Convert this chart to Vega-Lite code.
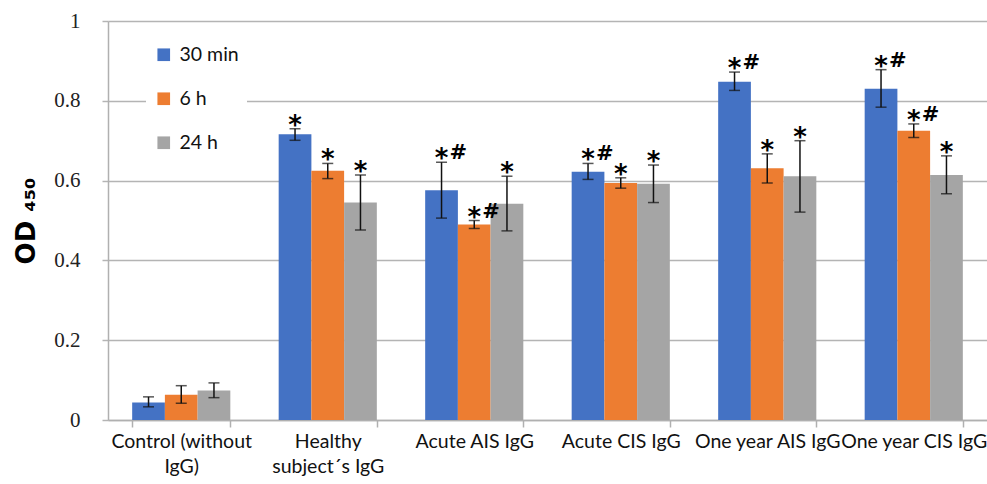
{
  "$schema": "https://vega.github.io/schema/vega-lite/v6.json",
  "width": 879,
  "height": 399,
  "autosize": {"type": "none"},
  "padding": {"left": 108, "top": 21, "right": 0, "bottom": 64},
  "background": "white",
  "config": {"view": {"stroke": null}},
  "data": {"values": [
    {"group": "Control (without IgG)", "time": "30 min", "value": 0.044, "lo": 0.033, "hi": 0.058, "ann": ""},
    {"group": "Control (without IgG)", "time": "6 h", "value": 0.063, "lo": 0.042, "hi": 0.086, "ann": ""},
    {"group": "Control (without IgG)", "time": "24 h", "value": 0.074, "lo": 0.056, "hi": 0.093, "ann": ""},
    {"group": "Healthy subject´s IgG", "time": "30 min", "value": 0.716, "lo": 0.701, "hi": 0.730, "ann": "*"},
    {"group": "Healthy subject´s IgG", "time": "6 h", "value": 0.625, "lo": 0.605, "hi": 0.643, "ann": "*"},
    {"group": "Healthy subject´s IgG", "time": "24 h", "value": 0.545, "lo": 0.476, "hi": 0.614, "ann": "*"},
    {"group": "Acute AIS IgG", "time": "30 min", "value": 0.576, "lo": 0.506, "hi": 0.646, "ann": "*#"},
    {"group": "Acute AIS IgG", "time": "6 h", "value": 0.490, "lo": 0.480, "hi": 0.500, "ann": "*#"},
    {"group": "Acute AIS IgG", "time": "24 h", "value": 0.542, "lo": 0.474, "hi": 0.611, "ann": "*"},
    {"group": "Acute CIS IgG", "time": "30 min", "value": 0.622, "lo": 0.603, "hi": 0.643, "ann": "*#"},
    {"group": "Acute CIS IgG", "time": "6 h", "value": 0.594, "lo": 0.581, "hi": 0.607, "ann": "*"},
    {"group": "Acute CIS IgG", "time": "24 h", "value": 0.592, "lo": 0.545, "hi": 0.639, "ann": "*"},
    {"group": "One year AIS IgG", "time": "30 min", "value": 0.848, "lo": 0.826, "hi": 0.872, "ann": "*#"},
    {"group": "One year AIS IgG", "time": "6 h", "value": 0.631, "lo": 0.594, "hi": 0.667, "ann": "*"},
    {"group": "One year AIS IgG", "time": "24 h", "value": 0.611, "lo": 0.521, "hi": 0.700, "ann": "*"},
    {"group": "One year CIS IgG", "time": "30 min", "value": 0.830, "lo": 0.784, "hi": 0.878, "ann": "*#"},
    {"group": "One year CIS IgG", "time": "6 h", "value": 0.725, "lo": 0.708, "hi": 0.742, "ann": "*#"},
    {"group": "One year CIS IgG", "time": "24 h", "value": 0.614, "lo": 0.567, "hi": 0.662, "ann": "*"}
  ]},
  "encoding": {
    "x": {
      "field": "group", "type": "nominal", "sort": null,
      "scale": {"paddingInner": 0.33, "paddingOuter": 0.165},
      "axis": {
        "title": null, "labelAngle": 0, "labelOverlap": false, "labelLimit": 0,
        "labelFont": "Lato", "labelFontSize": 19.5, "labelColor": "#111",
        "labelLineHeight": 25, "labelPadding": 5,
        "labelExpr": "datum.value == 'Control (without IgG)' ? ['Control (without', 'IgG)'] : datum.value == 'Healthy subject´s IgG' ? ['Healthy', 'subject´s IgG'] : datum.value",
        "tickBand": "extent", "tickSize": 7, "tickColor": "#b0b0b0", "tickWidth": 1.5,
        "domainColor": "#b0b0b0", "domainWidth": 1.5, "grid": false
      }
    },
    "xOffset": {"field": "time", "type": "nominal", "sort": ["30 min", "6 h", "24 h"], "scale": {"paddingInner": 0, "paddingOuter": 0}}
  },
  "layer": [
    {
      "mark": {"type": "bar"},
      "encoding": {
        "y": {
          "field": "value", "type": "quantitative",
          "scale": {"domain": [0, 1], "nice": false},
          "axis": {
            "values": [0, 0.2, 0.4, 0.6, 0.8, 1], "format": "~g",
            "title": "OD ₄₅₀", "titleFont": "DejaVu Sans", "titleFontSize": 26, "titleFontWeight": "bold", "titleColor": "#000", "titlePadding": 14,
            "labelFont": "Liberation Serif", "labelFontSize": 21, "labelColor": "#222", "labelPadding": 22,
            "grid": true, "gridColor": "#b4b4b4", "gridWidth": 1.5,
            "tickSize": 6, "tickColor": "#b4b4b4", "tickWidth": 1.5,
            "domainColor": "#b0b0b0", "domainWidth": 1.5
          }
        },
        "color": {
          "field": "time", "type": "nominal", "sort": ["30 min", "6 h", "24 h"],
          "scale": {"domain": ["30 min", "6 h", "24 h"], "range": ["#4472C4", "#ED7D31", "#A5A5A5"]},
          "legend": {
            "title": null, "orient": "none", "legendX": 38, "legendY": 16,
            "symbolType": "square", "symbolSize": 160, "symbolStrokeWidth": 0,
            "labelFont": "Lato", "labelFontSize": 19.5, "labelColor": "#111", "labelOffset": 6,
            "rowPadding": 23, "fillColor": "white", "padding": 8
          }
        }
      }
    },
    {
      "mark": {"type": "rule", "color": "#111", "strokeWidth": 1.5},
      "encoding": {"y": {"field": "lo", "type": "quantitative"}, "y2": {"field": "hi"}}
    },
    {
      "mark": {"type": "tick", "color": "#111", "thickness": 1.5, "size": 11, "orient": "horizontal"},
      "encoding": {"y": {"field": "lo", "type": "quantitative"}}
    },
    {
      "mark": {"type": "tick", "color": "#111", "thickness": 1.5, "size": 11, "orient": "horizontal"},
      "encoding": {"y": {"field": "hi", "type": "quantitative"}}
    },
    {
      "transform": [{"filter": "datum.ann != ''"}],
      "mark": {"type": "text", "font": "DejaVu Sans", "fontWeight": "bold", "fontSize": 26, "baseline": "alphabetic", "align": "center", "dy": 5, "color": "#000"},
      "encoding": {"y": {"field": "hi", "type": "quantitative"}, "text": {"value": "*"}}
    },
    {
      "transform": [{"filter": "datum.ann == '*#'"}],
      "mark": {"type": "text", "font": "DejaVu Serif", "fontWeight": "bold", "fontSize": 21, "baseline": "alphabetic", "align": "left", "dx": 8, "dy": -3, "color": "#000"},
      "encoding": {"y": {"field": "hi", "type": "quantitative"}, "text": {"value": "#"}}
    }
  ]
}
